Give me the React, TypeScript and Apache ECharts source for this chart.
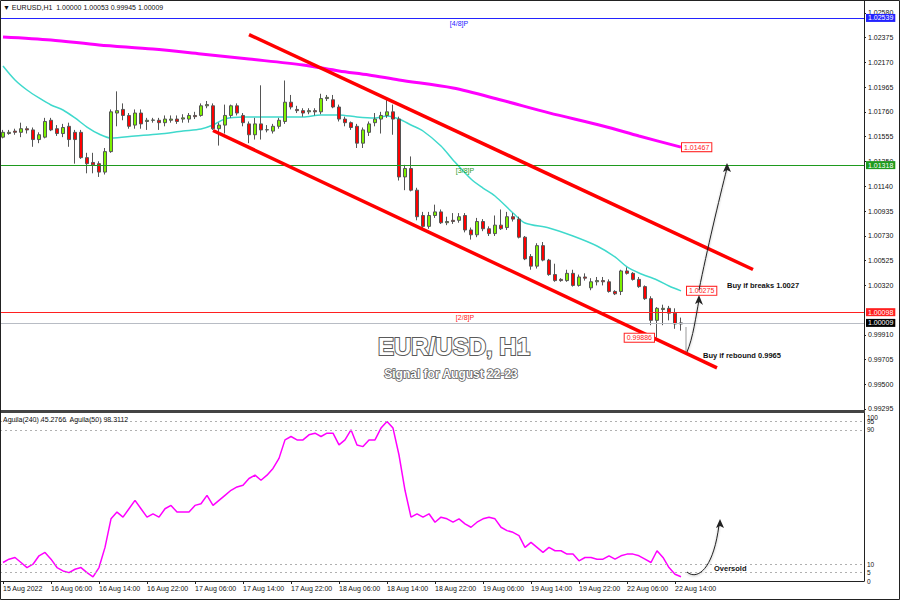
import React, { useEffect, useRef } from "react";
import * as echarts from "echarts";

// ---------- data ----------
const barOpen = [
  1.0155, 1.0158, 1.016, 1.0159, 1.0162, 1.0161, 1.0153, 1.0155, 1.0169, 1.0162,
  1.0158, 1.0164, 1.0159, 1.0159, 1.0138, 1.0134, 1.0133, 1.0126, 1.0143, 1.0175,
  1.0178, 1.0173, 1.0165, 1.0175, 1.0168, 1.0169, 1.0169, 1.0167, 1.0169, 1.017,
  1.017, 1.017, 1.0173, 1.0173, 1.0181, 1.0181, 1.0162, 1.0165, 1.0173, 1.0181,
  1.0173, 1.0166, 1.0157, 1.0166, 1.0161, 1.016, 1.0164, 1.0168, 1.0184, 1.0178,
  1.0177, 1.0176, 1.0177, 1.0176, 1.0187, 1.0186, 1.018, 1.017, 1.0167, 1.0164,
  1.015, 1.0159, 1.0167, 1.017, 1.0173, 1.0176, 1.017, 1.0122, 1.0129, 1.0111,
  1.009, 1.0081, 1.009, 1.0093, 1.0084, 1.0086, 1.0086, 1.009, 1.0078, 1.0074,
  1.0085, 1.0079, 1.0075, 1.0082, 1.008, 1.0089, 1.0087, 1.0072, 1.0056, 1.0048,
  1.0065, 1.0053, 1.0041, 1.0037, 1.0036, 1.0042, 1.0032, 1.0039, 1.003, 1.0035,
  1.0036, 1.0035, 1.0027, 1.0027, 1.0044, 1.0042, 1.0037, 1.0031, 1.0021, 1.0003,
  1.0012, 1.0013, 1.0009, 1.0,
];
const barHigh = [
  1.0161, 1.0161, 1.0162, 1.0167, 1.0164, 1.0163, 1.0159, 1.0171, 1.0171, 1.0165,
  1.0166, 1.0167, 1.0161, 1.0161, 1.0142, 1.0142, 1.0135, 1.0146, 1.0178, 1.0193,
  1.0183, 1.0175, 1.0178, 1.0178, 1.0171, 1.0171, 1.0171, 1.0173, 1.0173, 1.0173,
  1.0174, 1.0175, 1.0176, 1.0183, 1.0185, 1.0183, 1.0167, 1.0182, 1.0182, 1.0183,
  1.0175, 1.0168, 1.0171, 1.0198, 1.0165, 1.0166, 1.0171, 1.0202, 1.019, 1.0181,
  1.0179, 1.0179, 1.0179, 1.0191, 1.019, 1.019, 1.0182, 1.0172, 1.0168, 1.0166,
  1.0163, 1.0168, 1.0175, 1.0176, 1.0186, 1.0182, 1.0172, 1.0132, 1.0139, 1.0113,
  1.0093, 1.0093, 1.0099, 1.0095, 1.0089, 1.0092, 1.0092, 1.0092, 1.008, 1.0088,
  1.0087, 1.0081, 1.009, 1.0095, 1.0093, 1.0092, 1.0089, 1.0073, 1.0058, 1.0067,
  1.0068, 1.0054, 1.005, 1.0038, 1.0045, 1.0045, 1.0041, 1.0042, 1.0038, 1.0039,
  1.0039, 1.0037, 1.0028, 1.0045, 1.0047, 1.0043, 1.0039, 1.0032, 1.0023, 1.0014,
  1.0016, 1.0015, 1.0013, 1.00053,
];
const barLow = [
  1.0154, 1.0157, 1.0157, 1.0155, 1.0158, 1.0147, 1.015, 1.0154, 1.016, 1.0156,
  1.0155, 1.0147, 1.0133, 1.0137, 1.0125, 1.0125, 1.0122, 1.0124, 1.0142, 1.0164,
  1.0169, 1.0162, 1.0162, 1.0162, 1.0161, 1.0167, 1.0161, 1.0164, 1.0167, 1.0166,
  1.0167, 1.0167, 1.017, 1.0172, 1.0179, 1.0161, 1.0148, 1.0158, 1.0171, 1.0173,
  1.0164, 1.015, 1.0153, 1.0153, 1.0159, 1.0158, 1.0162, 1.0166, 1.0178, 1.0175,
  1.0172, 1.0174, 1.0173, 1.0174, 1.0185, 1.0179, 1.0168, 1.0164, 1.0161, 1.0146,
  1.0146, 1.0156, 1.0164, 1.0158, 1.0171, 1.0157, 1.0119, 1.0111, 1.011, 1.0086,
  1.0079, 1.0079, 1.0088, 1.0083, 1.0082, 1.0083, 1.0084, 1.0076, 1.007, 1.0072,
  1.0077, 1.0073, 1.0073, 1.0078, 1.0078, 1.0085, 1.0071, 1.0053, 1.0045, 1.0046,
  1.0052, 1.004, 1.0035, 1.0035, 1.0035, 1.0031, 1.0031, 1.0036, 1.0028, 1.0032,
  1.0032, 1.0026, 1.0024, 1.0024, 1.0041, 1.0036, 1.003, 1.002, 0.9999, 0.99886,
  0.9999, 1.0003, 0.9996, 0.99945,
];
const barClose = [
  1.0159, 1.0159, 1.0159, 1.0162, 1.0161, 1.0153, 1.0157, 1.0168, 1.0161, 1.0158,
  1.0163, 1.0153, 1.0153, 1.0138, 1.0133, 1.0132, 1.0126, 1.0143, 1.0176, 1.0177,
  1.0173, 1.0164, 1.0175, 1.0166, 1.0169, 1.01692, 1.0167, 1.017, 1.017, 1.0168,
  1.0171, 1.0173, 1.0172, 1.0181, 1.0182, 1.0162, 1.0165, 1.0173, 1.0181, 1.0175,
  1.0167, 1.0157, 1.0166, 1.0161, 1.01612, 1.0164, 1.0169, 1.0184, 1.018, 1.0177,
  1.0175, 1.0177, 1.0176, 1.0187, 1.0188, 1.018, 1.017, 1.0167, 1.0163, 1.015,
  1.0161, 1.0166, 1.017, 1.0173, 1.0176, 1.017, 1.0122, 1.0129, 1.0111, 1.0089,
  1.0081, 1.009, 1.0093, 1.0084, 1.0085, 1.0085, 1.0089, 1.0078, 1.0074, 1.0085,
  1.0079, 1.0075, 1.0082, 1.0079, 1.0089, 1.0087, 1.0072, 1.0054, 1.0048, 1.0065,
  1.0053, 1.0041, 1.0036, 1.0036, 1.0042, 1.0032, 1.0039, 1.0038, 1.0035, 1.0036,
  1.0035, 1.0027, 1.0025, 1.0044, 1.0042, 1.0037, 1.0031, 1.0021, 1.0003, 1.0013,
  1.0013, 1.0009, 1.0, 1.00009,
];

// moving averages: [bar index, price]
const maFastBars = [0, 2, 4, 6, 8, 10, 12, 14, 16, 18, 22, 26, 30, 33, 35, 37, 40, 45, 50, 53, 56, 59, 62, 64, 66, 68, 70, 73, 75, 78, 80, 82, 85, 87, 91, 95, 99, 102, 104, 106, 109, 111, 113];
const maFastValues = [1.0214, 1.02024, 1.01941, 1.01875, 1.01817, 1.01775, 1.01709, 1.01634, 1.01576, 1.01543, 1.0156, 1.01576, 1.01601, 1.01618, 1.01651, 1.01701, 1.01717, 1.01717, 1.01717, 1.01734, 1.01734, 1.01717, 1.01709, 1.01726, 1.01701, 1.01651, 1.01601, 1.01477, 1.01361, 1.01203, 1.01128, 1.01062, 1.00921, 1.00838, 1.00797, 1.0073, 1.00647, 1.00556, 1.00473, 1.00423, 1.00365, 1.00315, 1.00275];
const maSlowBars = [0, 8, 16, 25, 33, 41, 50, 56, 61, 66, 75, 83, 91, 100, 106, 113];
const maSlowValues = [1.02381, 1.02356, 1.02315, 1.02281, 1.0224, 1.02198, 1.02149, 1.02099, 1.02066, 1.02024, 1.01958, 1.01858, 1.01751, 1.01643, 1.0156, 1.01467];

// channel trend lines: [bar index, price]
const upperChannel = [[41, 1.02401], [125, 1.00452]];
const lowerChannel = [[35, 1.01605], [119, 0.99636]];

// indicator (Aguila) values per bar
const aguila = [
  11, 13, 14, 11, 8, 10, 15, 17, 13, 8, 6, 5, 7, 8, 5, 2.5, 8, 20, 37, 41,
  38, 43, 48, 43, 38, 40, 38, 43, 45, 41, 41, 41, 45, 46, 51, 45, 48, 51, 54, 56,
  57, 61, 63, 60, 63, 67, 73, 84, 86, 84, 84, 87, 88, 86, 88, 88, 81, 84, 90, 81,
  80, 84, 84, 91, 95, 91, 75, 54, 38, 40, 38, 40, 35, 38, 37, 35, 37, 34, 32, 35,
  37, 38, 37, 32, 30, 29, 27, 20, 23, 20, 17, 20, 18, 18, 16, 16, 12, 14, 14, 13,
  13, 15, 13, 15, 16, 16, 15, 13, 11, 18, 14, 8, 4, 2.5,
];

// axes
const priceTicks = ["1.02580", "1.02375", "1.02170", "1.01965", "1.01760", "1.01555", "1.01350", "1.01140", "1.00935", "1.00730", "1.00525", "1.00320", "0.99910", "0.99705", "0.99500", "0.99295"];
const aguilaTicks = [0, 5, 10, 90, 95];
const aguilaTopLabel = "100";
const aguilaLevels = [95, 90, 10, 5];
const timeTickBars = [0, 8, 16, 24, 32, 40, 48, 56, 64, 72, 80, 88, 96, 104, 112];
const timeTickLabels = ["15 Aug 2022", "16 Aug 06:00", "16 Aug 14:00", "16 Aug 22:00", "17 Aug 06:00", "17 Aug 14:00", "17 Aug 22:00", "18 Aug 06:00", "18 Aug 14:00", "18 Aug 22:00", "19 Aug 06:00", "19 Aug 14:00", "19 Aug 22:00", "22 Aug 06:00", "22 Aug 14:00"];
const slotCount = 144;

// horizontal levels
const levels = [
  { value: 1.02539, color: "#2323ff", name: "[4/8]P", bar: 76 },
  { value: 1.01318, color: "#1e9a1e", name: "[3/8]P", bar: 77 },
  { value: 1.00098, color: "#ff2020", name: "[2/8]P", bar: 77 },
];
const bidPrice = 1.00009;
const priceTags = [
  { bar: 113, value: 1.01467, side: "right" },
  { bar: 113, value: 1.00275, side: "right" },
  { bar: 109, value: 0.99886, side: "left" },
];

const FONT = "Liberation Sans";

export default function App() {
  const ref = useRef<HTMLDivElement>(null);

  useEffect(() => {
    document.body.style.margin = "0";
    const chart = echarts.init(ref.current!, null, { renderer: "svg" });
    const categories = Array.from({ length: slotCount }, (_, i) => String(i));
    const candles = barOpen.map((o, i) => [o, barClose[i], barLow[i], barHigh[i]]);
    const tickSet = new Set(timeTickBars);
    const boxLabel = (text: string, bg: string) => ({
      show: true, position: "end", distance: 2, formatter: () => text, color: "#fff",
      backgroundColor: bg, padding: [1, 2, 0, 2], fontSize: 7, fontFamily: FONT,
    });

    const option: any = {
      animation: false,
      backgroundColor: "#ffffff",
      grid: [
        { left: -2, right: 36, top: 0, height: 410 },
        { left: -2, right: 36, top: 413, height: 168 },
      ],
      xAxis: [
        {
          type: "category", gridIndex: 0, data: categories, boundaryGap: true,
          axisLine: { show: false }, axisTick: { show: false }, axisLabel: { show: false }, splitLine: { show: false },
        },
        {
          type: "category", gridIndex: 1, data: categories, boundaryGap: true,
          axisLine: { show: true, lineStyle: { color: "#222", width: 1 } },
          axisTick: { show: true, alignWithLabel: true, length: 3, interval: (i: number) => tickSet.has(i), lineStyle: { color: "#222" } },
          axisLabel: {
            show: true, interval: (i: number) => tickSet.has(i), align: "left", margin: 4,
            fontSize: 7, fontFamily: FONT, color: "#111",
            formatter: (_v: string, i: number) => timeTickLabels[timeTickBars.indexOf(i)] ?? "",
          },
          splitLine: { show: false },
        },
      ],
      yAxis: [
        {
          type: "value", gridIndex: 0, position: "right", min: 0.992864, max: 1.026878,
          axisLine: { show: true, lineStyle: { color: "#222", width: 1 } },
          axisTick: { show: true, length: 2, customValues: priceTicks.map(Number), lineStyle: { color: "#222" } },
          axisLabel: { show: true, customValues: priceTicks.map(Number), formatter: (v: number) => v.toFixed(5), fontSize: 7, fontFamily: FONT, color: "#111", margin: 4, hideOverlap: false },
          splitLine: { show: false },
        },
        {
          type: "value", gridIndex: 1, position: "right", min: 0, max: 100,
          axisLine: { show: true, lineStyle: { color: "#222", width: 1 } },
          axisTick: { show: false },
          axisLabel: { show: true, customValues: aguilaTicks, fontSize: 6.5, fontFamily: FONT, color: "#111", margin: 3, hideOverlap: false },
          splitLine: { show: false },
        },
      ],
      series: [
        {
          type: "line", xAxisIndex: 0, yAxisIndex: 0, data: maSlowBars.map((b, i) => [b, maSlowValues[i]]),
          smooth: 0.3, symbol: "none", lineStyle: { color: "#ff00ff", width: 3 }, z: 2,
          markLine: {
            silent: true, symbol: ["none", "none"], precision: 5,
            data: [
              ...levels.map((l) => ({
                yAxis: l.value,
                lineStyle: { color: l.color, width: 1, type: "solid" },
                label: boxLabel(l.value.toFixed(5), l.color),
              })),
              {
                yAxis: bidPrice,
                lineStyle: { color: "#b8bcc4", width: 1, type: "solid" },
                label: boxLabel(bidPrice.toFixed(5), "#000"),
              },
            ],
          },
        },
        {
          type: "line", xAxisIndex: 0, yAxisIndex: 0, data: maFastBars.map((b, i) => [b, maFastValues[i]]),
          smooth: 0.3, symbol: "none", lineStyle: { color: "#3fd9cc", width: 1.5 }, z: 3,
        },
        {
          type: "candlestick", xAxisIndex: 0, yAxisIndex: 0, data: candles, barWidth: 4, z: 4,
          itemStyle: { color: "#7cf000", color0: "#ff0000", borderColor: "#555", borderColor0: "#555", borderWidth: 1 },
          markPoint: {
            silent: true, symbol: "circle", symbolSize: 0, z: 10,
            data: [
              ...levels.map((l) => ({
                coord: [l.bar, l.value], value: l.name,
                label: { show: true, position: "bottom", distance: 2, formatter: () => l.name, color: l.color, fontSize: 7, fontFamily: FONT },
              })),
              ...priceTags.map((t) => ({
                coord: [t.bar, t.value], value: t.value,
                label: {
                  show: true, position: t.side, distance: t.side === "right" ? (t.value > 1.01 ? 1 : 6) : 3,
                  formatter: () => t.value.toFixed(5), color: "#ff2020", backgroundColor: "#fff",
                  borderColor: "#ff2020", borderWidth: 1, padding: [1, 2, 0, 2], fontSize: 7, fontFamily: FONT,
                },
              })),
            ],
          },
        },
        {
          type: "line", xAxisIndex: 0, yAxisIndex: 0, data: upperChannel, symbol: "none",
          lineStyle: { color: "#ff0000", width: 3.5 }, z: 5,
        },
        {
          type: "line", xAxisIndex: 0, yAxisIndex: 0, data: lowerChannel, symbol: "none",
          lineStyle: { color: "#ff0000", width: 3.5 }, z: 5,
        },
        {
          type: "line", xAxisIndex: 1, yAxisIndex: 1, data: aguila, symbol: "none",
          lineStyle: { color: "#ff00ff", width: 1.5 }, z: 3,
          markLine: {
            silent: true, symbol: ["none", "none"], label: { show: false }, precision: 2,
            lineStyle: { color: "#b0b0b0", type: [2, 3], width: 1 },
            data: aguilaLevels.map((v) => ({ yAxis: v })),
          },
        },
      ],
      graphic: [
        // pane separator & frame
        { type: "rect", shape: { x: 0, y: 410, width: 865, height: 3 }, style: { fill: "#444" }, z: 20 },
        { type: "rect", shape: { x: 0.5, y: 0.5, width: 899, height: 599 }, style: { fill: "none", stroke: "#222", lineWidth: 1 }, z: 20 },
        { type: "text", x: 3, y: 7, style: { text: "▼ EURUSD,H1  1.00000 1.00053 0.99945 1.00009", fontSize: 7, fontFamily: FONT, fill: "#111", verticalAlign: "middle" }, z: 20 },
        { type: "text", x: 3, y: 419, style: { text: "Aguila(240) 45.2766  Aguila(50) 98.3112", fontSize: 7, fontFamily: FONT, fill: "#111", verticalAlign: "middle" }, z: 20 },
        { type: "text", x: 867, y: 417, style: { text: aguilaTopLabel, fontSize: 6.5, fontFamily: FONT, fill: "#111", verticalAlign: "middle" }, z: 20 },
        // title
        {
          type: "text", x: 454, y: 346, z: 20,
          style: { text: "EUR/USD, H1", fontSize: 24, fontWeight: "bold", fontFamily: FONT, fill: "#ffffff", stroke: "#5a5a5a", lineWidth: 2, align: "center", verticalAlign: "middle", shadowColor: "rgba(0,0,0,0.45)", shadowBlur: 3, shadowOffsetX: 1, shadowOffsetY: 2 },
        },
        {
          type: "text", x: 451, y: 374, z: 20,
          style: { text: "Signal for August 22-23", fontSize: 12, fontWeight: "bold", fontFamily: FONT, fill: "#ffffff", stroke: "#5a5a5a", lineWidth: 1.5, align: "center", verticalAlign: "middle", shadowColor: "rgba(0,0,0,0.45)", shadowBlur: 2, shadowOffsetX: 1, shadowOffsetY: 1 },
        },
        // annotations
        { type: "text", x: 727, y: 285, z: 20, style: { text: "Buy if breaks 1.0027", fontSize: 7.5, fontWeight: "bold", fontFamily: FONT, fill: "#111", verticalAlign: "middle" } },
        { type: "text", x: 703, y: 355, z: 20, style: { text: "Buy if rebound 0.9965", fontSize: 7.5, fontWeight: "bold", fontFamily: FONT, fill: "#111", verticalAlign: "middle" } },
        { type: "text", x: 714, y: 568, z: 20, style: { text: "Oversold", fontSize: 7.5, fontWeight: "bold", fontFamily: FONT, fill: "#111", verticalAlign: "middle" } },
        // arrows
        { type: "line", z: 19, shape: { x1: 686, y1: 327, x2: 686, y2: 351 }, style: { stroke: "#999", lineWidth: 1 } },
        { type: "bezierCurve", z: 20, shape: { x1: 687, y1: 352, cpx1: 693, cpy1: 338, cpx2: 696, cpy2: 316, x2: 699, y2: 300 }, style: { stroke: "#222", lineWidth: 1, fill: "none", shadowColor: "rgba(0,0,0,0.3)", shadowBlur: 2, shadowOffsetY: 1 } },
        { type: "polygon", z: 20, shape: { points: [[699, 295], [695, 304], [699, 302], [703, 305]] }, style: { fill: "#222" } },
        { type: "bezierCurve", z: 20, shape: { x1: 699, y1: 290, cpx1: 707, cpy1: 250, cpx2: 719, cpy2: 200, x2: 727, y2: 168 }, style: { stroke: "#222", lineWidth: 1, fill: "none", shadowColor: "rgba(0,0,0,0.3)", shadowBlur: 2, shadowOffsetY: 1 } },
        { type: "polygon", z: 20, shape: { points: [[727, 163], [723, 172], [727, 170], [731, 172]] }, style: { fill: "#222" } },
        { type: "bezierCurve", z: 20, shape: { x1: 687, y1: 572, cpx1: 696, cpy1: 580, cpx2: 713, cpy2: 572, x2: 719, y2: 525 }, style: { stroke: "#222", lineWidth: 1, fill: "none", shadowColor: "rgba(0,0,0,0.3)", shadowBlur: 2, shadowOffsetY: 1 } },
        { type: "polygon", z: 20, shape: { points: [[720, 519], [716, 528], [720, 526], [724, 528]] }, style: { fill: "#222" } },
      ],
    };
    chart.setOption(option);
    return () => chart.dispose();
  }, []);

  return <div ref={ref} style={{ width: 900, height: 600, position: "absolute", left: 0, top: 0 }} />;
}
